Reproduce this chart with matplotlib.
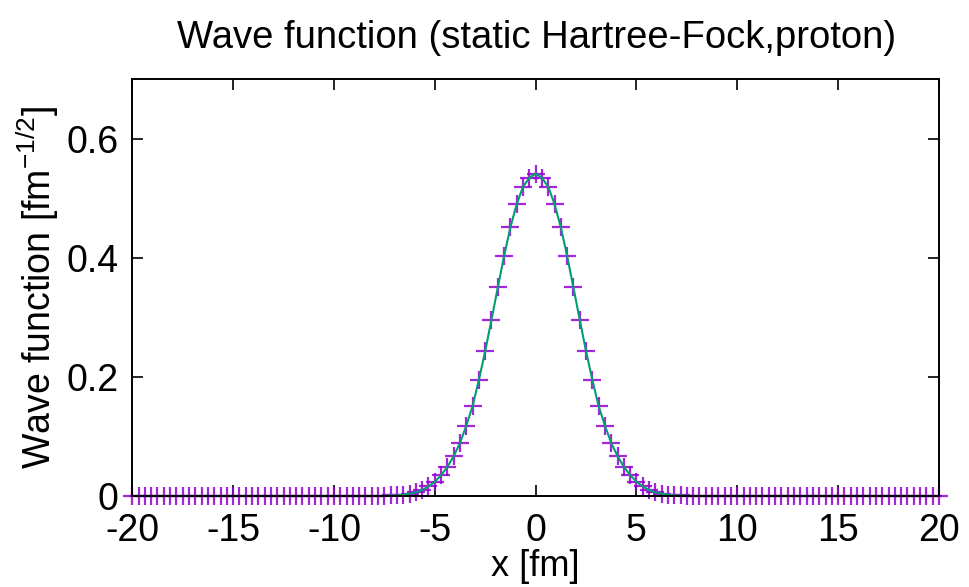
import numpy as np
import matplotlib
matplotlib.use('Agg')
import matplotlib.pyplot as plt

plt.rcParams['font.family'] = ['Liberation Sans', 'DejaVu Sans']

# spatial grid [fm]
x_fm = np.linspace(-20.0, 20.0, 129)

# proton wave function on the grid [fm^-1/2]
psi = [
    0.000, 0.000, 0.000, 0.000, 0.000, 0.000, 0.000, 0.000, 0.000, 0.000,
    0.000, 0.000, 0.000, 0.000, 0.000, 0.000, 0.000, 0.000, 0.000, 0.000,
    0.000, 0.000, 0.000, 0.000, 0.000, 0.000, 0.000, 0.000, 0.000, 0.000,
    0.000, 0.000, 0.000, 0.000, 0.000, 0.000, 0.000, 0.000, 0.000, 0.000,
    0.000, 0.001, 0.001, 0.002, 0.004, 0.006, 0.010, 0.016, 0.024, 0.035,
    0.049, 0.067, 0.089, 0.118, 0.151, 0.195, 0.243, 0.296, 0.350, 0.403,
    0.451, 0.490, 0.519, 0.534, 0.541, 0.534, 0.519, 0.490, 0.451, 0.403,
    0.350, 0.296, 0.243, 0.195, 0.151, 0.118, 0.089, 0.067, 0.049, 0.035,
    0.024, 0.016, 0.010, 0.006, 0.004, 0.002, 0.001, 0.001, 0.000, 0.000,
    0.000, 0.000, 0.000, 0.000, 0.000, 0.000, 0.000, 0.000, 0.000, 0.000,
    0.000, 0.000, 0.000, 0.000, 0.000, 0.000, 0.000, 0.000, 0.000, 0.000,
    0.000, 0.000, 0.000, 0.000, 0.000, 0.000, 0.000, 0.000, 0.000, 0.000,
    0.000, 0.000, 0.000, 0.000, 0.000, 0.000, 0.000, 0.000, 0.000,
]

x_ticks = [-20, -15, -10, -5, 0, 5, 10, 15, 20]
y_ticks = [0.0, 0.2, 0.4, 0.6]
y_tick_labels = ['0', '0.2', '0.4', '0.6']

fig = plt.figure(figsize=(9.69, 5.87), dpi=100)
ax = fig.add_axes([0.1365, 0.155, 0.8325, 0.7105])

ax.plot(x_fm, psi, linestyle='none', marker='+', markersize=13,
        markeredgewidth=1.6, color='#9400d3', alpha=0.85, clip_on=False)
ax.plot(x_fm, psi, color='#009e73', linewidth=1.5)

ax.set_xlim(-20, 20)
ax.set_ylim(0, 0.7)
ax.set_xticks(x_ticks)
ax.set_xticklabels([str(t) for t in x_ticks])
ax.set_yticks(y_ticks)
ax.set_yticklabels(y_tick_labels)

ax.tick_params(direction='in', length=8, width=1.2, top=True, right=True,
               labelsize=27)
ax.tick_params(axis='y', pad=10)
ax.tick_params(axis='x', pad=12)
for s in ax.spines.values():
    s.set_linewidth(1.4)

ax.set_xlabel('x [fm]', fontsize=26, labelpad=0)
ax.set_ylabel(r'Wave function [fm$^{\mathregular{-1/2}}$]', fontsize=27, labelpad=4)
fig.text(0.554, 0.935, 'Wave function (static Hartree-Fock,proton)',
         fontsize=27.5, ha='center', va='center')

fig.savefig('out.png', dpi=100)
